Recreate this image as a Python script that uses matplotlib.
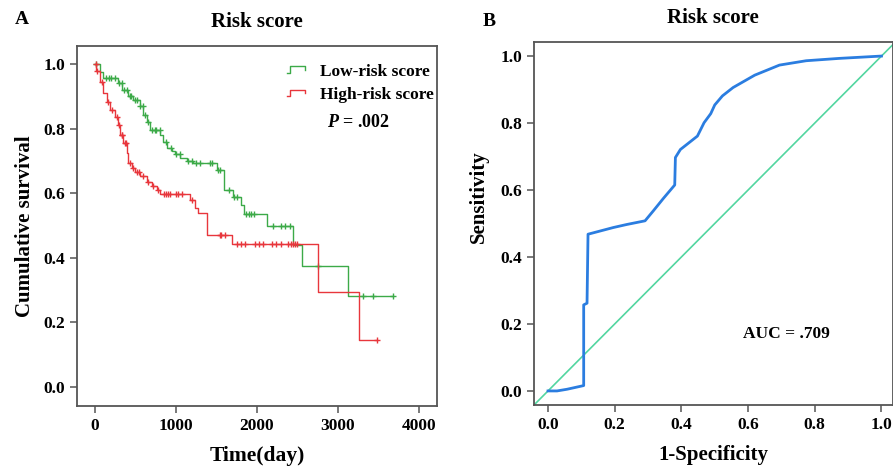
import numpy as np
import matplotlib
matplotlib.use("Agg")
import matplotlib.pyplot as plt
from matplotlib.legend_handler import HandlerBase
from matplotlib.lines import Line2D

plt.rcParams['font.family'] = ['Liberation Serif', 'DejaVu Serif']
plt.rcParams['font.weight'] = 'bold'
plt.rcParams['mathtext.fontset'] = 'custom'
plt.rcParams['mathtext.it'] = 'Liberation Serif:bold:italic'
plt.rcParams['mathtext.rm'] = 'Liberation Serif:bold'

# ---------------- Data: Kaplan-Meier ----------------
low_times = [0, 66, 107, 292, 333, 415, 477, 559, 600, 641, 682, 805, 846, 887, 949,
             990, 1052, 1134, 1216, 1506, 1593, 1704, 1802, 1840, 2120, 2449, 2551, 3127]
low_surv = [1.0, 0.976, 0.956, 0.94, 0.92, 0.90, 0.889, 0.87, 0.842, 0.82, 0.796, 0.78, 0.76, 0.74, 0.73,
            0.72, 0.708, 0.70, 0.693, 0.672, 0.61, 0.588, 0.563, 0.536, 0.50, 0.44, 0.375, 0.282]
low_end = 3681
low_censor = [20, 140, 170, 200, 250, 300, 330, 360, 400, 430, 450, 500, 520, 560, 590, 620, 660,
              700, 740, 760, 800, 880, 940, 1000, 1050, 1150, 1200, 1250, 1300, 1420, 1450, 1520,
              1550, 1650, 1720, 1750, 1870, 1900, 1930, 1960, 2200, 2300, 2350, 2410, 2750,
              3311, 3435, 3681]

high_times = [0, 20, 66, 107, 148, 189, 251, 292, 312, 353, 394, 415, 456, 497, 559, 641, 703,
              764, 805, 1175, 1237, 1278, 1380, 1689, 2757, 3262]
high_surv = [1.0, 0.98, 0.945, 0.909, 0.884, 0.858, 0.837, 0.811, 0.78, 0.755, 0.724, 0.693, 0.677,
             0.667, 0.652, 0.636, 0.621, 0.61, 0.597, 0.579, 0.554, 0.538, 0.471, 0.443, 0.293, 0.146]
high_end = 3476
high_censor = [10, 30, 90, 160, 210, 270, 300, 330, 340, 370, 380, 430, 470, 520, 540, 600, 650,
               720, 780, 850, 880, 900, 930, 1000, 1030, 1080, 1200, 1540, 1560, 1600, 1750, 1800,
               1850, 1980, 2030, 2080, 2180, 2230, 2300, 2380, 2420, 2440, 2470, 2500, 3476]

# ---------------- Data: ROC ----------------
roc_fpr = [0.0, 0.027, 0.057, 0.107, 0.107, 0.117, 0.120, 0.196, 0.236, 0.291, 0.316, 0.346, 0.380,
           0.382, 0.397, 0.420, 0.448, 0.468, 0.488, 0.500, 0.523, 0.555, 0.620, 0.694, 0.774,
           0.873, 1.0]
roc_tpr = [0.0, 0.0, 0.005, 0.016, 0.257, 0.262, 0.468, 0.488, 0.497, 0.508, 0.538, 0.575, 0.615,
           0.697, 0.721, 0.739, 0.761, 0.801, 0.828, 0.854, 0.881, 0.906, 0.943, 0.973, 0.986,
           0.993, 1.0]

GREEN = '#3caa48'
RED = '#e8363c'
BLUE = '#2b7de0'
DIAG = '#52d6a0'
SPINE = '#555555'
TICKSIZE = 12.5

fig = plt.figure(figsize=(8.93, 4.66), dpi=100)


class StepHandler(HandlerBase):
    def create_artists(self, legend, orig_handle, xdescent, ydescent, width, height, fontsize, trans):
        x = np.array([0, 0.15, 0.15, 0.8, 0.8]) * width - xdescent
        y = np.array([0.2, 0.2, 0.75, 0.75, 0.45]) * height - ydescent
        ln = Line2D(x, y, color=orig_handle.get_color(), lw=1.0, transform=trans)
        return [ln]


def style_axes(ax):
    for s in ax.spines.values():
        s.set_color(SPINE)
        s.set_linewidth(1.3)
    ax.tick_params(direction='out', length=5, width=1.1, color=SPINE, labelsize=TICKSIZE)
    for lab in ax.get_xticklabels() + ax.get_yticklabels():
        lab.set_fontweight('bold')


def km_step(times, surv, end):
    t = list(times) + [end]
    s = list(surv) + [surv[-1]]
    return t, s


def surv_at(times, surv, tq):
    idx = np.searchsorted(np.array(times), np.array(tq), side='right') - 1
    return np.array(surv)[idx]


# ---------------- Panel A ----------------
axA = fig.add_axes([0.0862, 0.1288, 0.4031, 0.7725])
t, s = km_step(low_times, low_surv, low_end)
lowline, = axA.step(t, s, where='post', color=GREEN, lw=1.0)
axA.plot(low_censor, surv_at(low_times, low_surv, low_censor), ls='none', marker='+',
         ms=5, mew=1.0, color=GREEN)
t, s = km_step(high_times, high_surv, high_end)
highline, = axA.step(t, s, where='post', color=RED, lw=1.0)
axA.plot(high_censor, surv_at(high_times, high_surv, high_censor), ls='none', marker='+',
         ms=5, mew=1.0, color=RED)

axA.set_xlim(-220, 4220)
axA.set_ylim(-0.059, 1.056)
axA.set_xticks([0, 1000, 2000, 3000, 4000])
axA.set_yticks([0.0, 0.2, 0.4, 0.6, 0.8, 1.0])
axA.set_yticklabels(['0.0', '0.2', '0.4', '0.6', '0.8', '1.0'])
style_axes(axA)
axA.set_xlabel('Time(day)', fontsize=15.5, fontweight='bold', labelpad=9)
axA.set_ylabel('Cumulative survival', fontsize=15, fontweight='bold', labelpad=6)
axA.set_title('Risk score', fontsize=15, fontweight='bold', pad=14)
leg = axA.legend([lowline, highline], ['Low-risk score', 'High-risk score'],
                 handler_map={Line2D: StepHandler()}, loc='upper right',
                 bbox_to_anchor=(1.035, 0.995), frameon=False,
                 handlelength=1.3, handletextpad=0.6, labelspacing=0.4,
                 prop={'weight': 'bold', 'size': 12.5})
axA.text(2864, 0.82, '$P$ = .002', fontsize=13, fontweight='bold', va='center', ha='left')
fig.text(15 / 893, 1 - 20 / 466, 'A', fontsize=14, fontweight='bold', va='center', ha='left')

# ---------------- Panel B ----------------
axB = fig.add_axes([534 / 893, 0.1309, 358.5 / 893, 0.7790])
axB.axline((0, 0), (1, 1), color=DIAG, lw=1.2)
axB.plot(roc_fpr, roc_tpr, color=BLUE, lw=2.0)
axB.set_xlim(-0.042, 1.033)
axB.set_ylim(-0.042, 1.042)
axB.set_xticks([0.0, 0.2, 0.4, 0.6, 0.8, 1.0])
axB.set_yticks([0.0, 0.2, 0.4, 0.6, 0.8, 1.0])
axB.set_xticklabels(['0.0', '0.2', '0.4', '0.6', '0.8', '1.0'])
axB.set_yticklabels(['0.0', '0.2', '0.4', '0.6', '0.8', '1.0'])
style_axes(axB)
axB.set_xlabel('1-Specificity', fontsize=15, fontweight='bold', labelpad=9)
axB.set_ylabel('Sensitivity', fontsize=15, fontweight='bold')
axB.yaxis.set_label_coords(-0.125, 0.575)
axB.set_title('Risk score', fontsize=15, fontweight='bold', pad=14)
axB.text(0.584, 0.17, 'AUC = .709', fontsize=12.5, fontweight='bold', va='center', ha='left')
fig.text(483 / 893, 1 - 22 / 466, 'B', fontsize=14, fontweight='bold', va='center', ha='left')

fig.savefig('out.png', dpi=100)
